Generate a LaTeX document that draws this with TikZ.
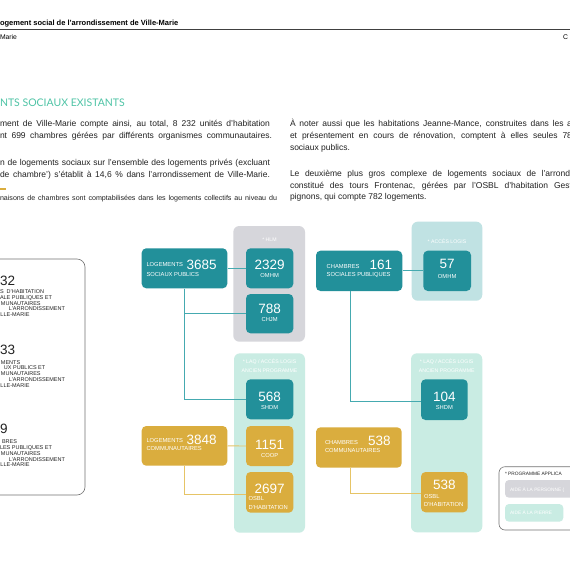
\documentclass[tikz,border=0pt]{standalone}
\usepackage{fontspec}
\setmainfont{Liberation Sans}
\newfontfamily\headfont{Lato}
\definecolor{tealc}{HTML}{22909A}
\definecolor{yelc}{HTML}{DAAD3E}
\definecolor{grayg}{HTML}{D6D6DB}
\definecolor{mintg}{HTML}{C9ECE3}
\definecolor{acclg}{HTML}{C0E2E3}
\definecolor{tlinec}{HTML}{45AAB0}
\definecolor{ylinec}{HTML}{E6C466}
\definecolor{headc}{HTML}{4FC4A6}
\definecolor{bodyc}{HTML}{222222}
\begin{document}
\begin{tikzpicture}[x=1pt,y=-1pt,
  txt/.style={inner sep=0pt, outer sep=0pt},
  body/.style={txt, anchor=base west, font=\fontsize{8.5}{10}\selectfont, text=bodyc},
  foot/.style={txt, anchor=base west, font=\fontsize{7.1}{8}\selectfont, text=bodyc},
  grp/.style={draw=none, rounded corners=6pt, inner sep=0pt},
  boxs/.style={draw=none, rounded corners=4.5pt, inner sep=0pt},
  tealbox/.style={boxs, fill=tealc},
  yelbox/.style={boxs, fill=yelc},
  big/.style={txt, font=\fontsize{13.5}{13}\selectfont, text=white},
  small/.style={txt, font=\fontsize{5.8}{6}\selectfont, text=white},
  glabel/.style={txt, anchor=base, font=\fontsize{5.2}{6}\selectfont, text=white},
  tline/.style={draw=tlinec, line width=0.9pt},
  yline/.style={draw=ylinec, line width=0.9pt},
  lbtxt/.style={txt, anchor=base west, font=\fontsize{5.5}{5.5}\selectfont, text=bodyc},
  lbnum/.style={txt, anchor=base west, font=\fontsize{13.5}{13}\selectfont, text=bodyc},
  legtxt/.style={txt, anchor=base west, font=\fontsize{4.8}{5}\selectfont},
]
\useasboundingbox (0,0) rectangle (570,570);
\clip (0,0) rectangle (570,570);
\fill[white] (0,0) rectangle (570,570);

% header
\node[txt, anchor=base west, font=\bfseries\fontsize{7.5}{8}\selectfont] (title) at (0,25) {ogement social de l'arrondissement de Ville-Marie};
\coordinate (rl) at (0,29.5);
\coordinate (rr) at (570,29.5);
\draw[line width=0.8pt, draw=black!75] (rl) -- (rr);
\node[txt, anchor=base west, font=\fontsize{6.8}{8}\selectfont] (hl) at (0,39.5) {Marie};
\node[txt, anchor=base west, font=\fontsize{6.8}{8}\selectfont] (hr) at (563,39.5) {C};

% section heading
\node[txt, anchor=base west, font=\headfont\fontsize{10.5}{12}\selectfont, text=headc] (head) at (0,106.5) {NTS SOCIAUX EXISTANTS};

% left column text
\node[body] (l1) at (0,126.2) {\makebox[270pt][s]{ment de Ville-Marie compte ainsi, au total, 8 232 unités d'habitation}};
\node[body] (l2) at (0,138.2) {\makebox[272pt][s]{nt 699 chambres gérées par différents organismes communautaires.}};
\node[body] (l3) at (0,165) {\makebox[270pt][s]{n de logements sociaux sur l'ensemble des logements privés (excluant}};
\node[body] (l4) at (0,177) {\makebox[270pt][s]{de chambre') s'établit à 14,6 \% dans l'arrondissement de Ville-Marie.}};
\coordinate (ya) at (0,189);
\coordinate (yb) at (6,189);
\draw[draw=yelc, line width=1.5pt] (ya) -- (yb);
\node[foot] (l5) at (0,200.3) {\makebox[277pt][s]{naisons de chambres sont comptabilisées dans les logements collectifs au niveau du}};

% right column text
\node[body] (r1) at (290,126.2) {\makebox[282pt][s]{À noter aussi que les habitations Jeanne-Mance, construites dans les a}};
\node[body] (r2) at (290,138.2) {\makebox[282pt][s]{et présentement en cours de rénovation, comptent à elles seules 78}};
\node[body] (r3) at (290,150.2) {sociaux publics.};
\node[body] (r4) at (290,176) {\makebox[282pt][s]{Le deuxième plus gros complexe de logements sociaux de l'arrondi}};
\node[body] (r5) at (290,188) {\makebox[282pt][s]{constitué des tours Frontenac, gérées par l'OSBL d'habitation Gest}};
\node[body] (r6) at (290,199.7) {pignons, qui compte 782 logements.};

% left summary box
\node[draw=black!55, line width=0.6pt, rounded corners=8pt, minimum width=105pt, minimum height=236pt, inner sep=0pt] (lbox) at (32.5,377) {};
\node[lbnum] (n1) at (0,285.5) {32};
\node[lbtxt] (a1) at (0,293.2) {S\ \ D'HABITATION};
\node[lbtxt] (a2) at (0,299.1) {ALE PUBLIQUES ET};
\node[lbtxt] (a3) at (1,305.0) {MUNAUTAIRES};
\node[lbtxt] (a4) at (9,310.9) {L'ARRONDISSEMENT};
\node[lbtxt] (a5) at (0.5,316.8) {LLE-MARIE};
\node[lbnum] (n2) at (0,354) {33};
\node[lbtxt] (b1) at (1,364.0) {MENTS};
\node[lbtxt] (b2) at (4,369.9) {UX PUBLICS ET};
\node[lbtxt] (b3) at (1,375.8) {MUNAUTAIRES};
\node[lbtxt] (b4) at (9,381.7) {L'ARRONDISSEMENT};
\node[lbtxt] (b5) at (0.5,387.6) {LLE-MARIE};
\node[lbnum] (n3) at (0,433.8) {9};
\node[lbtxt] (c1) at (2,443.3) {BRES};
\node[lbtxt] (c2) at (0,449.2) {LES PUBLIQUES ET};
\node[lbtxt] (c3) at (1,455.1) {MUNAUTAIRES};
\node[lbtxt] (c4) at (9,461.0) {L'ARRONDISSEMENT};
\node[lbtxt] (c5) at (0.5,466.9) {LLE-MARIE};

% group backgrounds
\node[grp, fill=grayg, minimum width=71.7pt, minimum height=115.7pt] (ghlm) at (269.15,283.85) {};
\node[grp, fill=mintg, minimum width=71pt, minimum height=179.4pt] (glaq1) at (269.5,443) {};
\node[grp, fill=acclg, minimum width=70.6pt, minimum height=79pt] (gacc) at (447,261.2) {};
\node[grp, fill=mintg, minimum width=71.3pt, minimum height=179pt] (glaq2) at (446.65,442.8) {};

\node[glabel] (lhlm) at (269.5,241.5) {* HLM};
\node[glabel] (llaq1a) at (269.5,363.6) {* LAQ / ACCÈS LOGIS};
\node[glabel] (llaq1b) at (269.5,372.6) {ANCIEN PROGRAMME};
\node[glabel] (lacc) at (447,243.8) {* ACCÈS LOGIS};
\node[glabel] (llaq2a) at (446.7,363.6) {* LAQ / ACCÈS LOGIS};
\node[glabel] (llaq2b) at (446.7,372.6) {ANCIEN PROGRAMME};

% boxes
\node[tealbox, minimum width=85.6pt, minimum height=40pt] (lp) at (184.5,268.3) {};
\node[tealbox, minimum width=47.3pt, minimum height=40pt] (omhm) at (269.65,268.3) {};
\node[tealbox, minimum width=47.3pt, minimum height=39.3pt] (chjm) at (269.65,313.65) {};
\node[tealbox, minimum width=47.3pt, minimum height=40pt] (shdm) at (269.65,399.3) {};
\node[yelbox, minimum width=85.6pt, minimum height=39.7pt] (lc) at (184.5,445.85) {};
\node[yelbox, minimum width=47.3pt, minimum height=40pt] (coop) at (269.65,446) {};
\node[yelbox, minimum width=47.3pt, minimum height=40.7pt] (osbl) at (269.65,492.35) {};

\node[tealbox, minimum width=86.3pt, minimum height=40.3pt] (cp) at (359.15,270.85) {};
\node[tealbox, minimum width=47.7pt, minimum height=40.3pt] (omhm2) at (447.15,270.85) {};
\node[tealbox, minimum width=46.7pt, minimum height=40.7pt] (shdm2) at (444.35,399.65) {};
\node[yelbox, minimum width=85.7pt, minimum height=40.4pt] (cc) at (358.85,447.5) {};
\node[yelbox, minimum width=46.7pt, minimum height=40.3pt] (osbl2) at (444.35,492.15) {};

% connectors
\draw[tline] (lp.east) -- (omhm.west);
\draw[tline] (lp.south) |- (chjm.west);
\draw[tline] (lp.south) |- (shdm.west);
\draw[yline] (lc.east) -- (coop.west);
\draw[yline] (lc.south) |- ([yshift=-2.5pt]osbl.west);
\draw[tline] (cp.east) -- (omhm2.west);
\draw[tline] ([xshift=-8.4pt]cp.south) |- ([yshift=-1.3pt]shdm2.west);
\draw[yline] ([xshift=-8.1pt]cc.south) |- ([yshift=-1.2pt]osbl2.west);

% box texts
\node[small, anchor=base west] (t1) at (146.5,266.5) {LOGEMENTS};
\node[big, anchor=base west] (t2) at (186.5,269.4) {3685};
\node[small, anchor=base west] (t3) at (146.5,276.3) {SOCIAUX PUBLICS};
\node[big, anchor=base] (t4) at (269.65,269.4) {2329};
\node[small, anchor=base] (t5) at (269.65,277.5) {OMHM};
\node[big, anchor=base] (t6) at (269.65,313.5) {788};
\node[small, anchor=base] (t7) at (269.65,321) {CHJM};
\node[big, anchor=base] (t8) at (269.65,401.7) {568};
\node[small, anchor=base] (t9) at (269.65,409.6) {SHDM};
\node[small, anchor=base west] (t10) at (146.5,442) {LOGEMENTS};
\node[big, anchor=base west] (t11) at (186.5,444.7) {3848};
\node[small, anchor=base west] (t12) at (146.5,450.5) {COMMUNAUTAIRES};
\node[big, anchor=base] (t13) at (269.65,449) {1151};
\node[small, anchor=base] (t14) at (269.65,457.2) {COOP};
\node[big, anchor=base] (t15) at (269.65,493.4) {2697};
\node[small, anchor=base west] (t16) at (248.5,500.6) {OSBL};
\node[small, anchor=base west] (t17) at (248.5,509) {D'HABITATION};

\node[small, anchor=base west] (u1) at (326.7,268.2) {CHAMBRES};
\node[big, anchor=base west] (u2) at (369.5,269.4) {161};
\node[small, anchor=base west] (u3) at (326.7,276.6) {SOCIALES PUBLIQUES};
\node[big, anchor=base] (u4) at (447.15,268.5) {57};
\node[small, anchor=base] (u5) at (447.15,278.2) {OMHM};
\node[big, anchor=base] (u6) at (444.35,401.7) {104};
\node[small, anchor=base] (u7) at (444.35,409) {SHDM};
\node[small, anchor=base west] (u8) at (325,444) {CHAMBRES};
\node[big, anchor=base west] (u9) at (368,445) {538};
\node[small, anchor=base west] (u10) at (325,452.2) {COMMUNAUTAIRES};
\node[big, anchor=base] (u11) at (444.35,489) {538};
\node[small, anchor=base west] (u12) at (424,498) {OSBL};
\node[small, anchor=base west] (u13) at (424,506.6) {D'HABITATION};

% legend
\node[draw=black!55, line width=0.6pt, rounded corners=6pt, minimum width=85pt, minimum height=63.3pt, inner sep=0pt] (leg) at (541.5,498.35) {};
\node[legtxt, text=bodyc] (lg0) at (505,475.4) {* PROGRAMME APPLICA};
\node[grp, rounded corners=4pt, fill=grayg, minimum width=80pt, minimum height=17.7pt] (lg1) at (545,488.85) {};
\node[legtxt, text=white] (lg1t) at (510,491.1) {AIDE À LA PERSONNE (};
\node[grp, rounded corners=4pt, fill=mintg, minimum width=58.3pt, minimum height=17.7pt] (lg2) at (534.15,512.85) {};
\node[legtxt, text=white] (lg2t) at (510,514.6) {AIDE À LA PIERRE};
\end{tikzpicture}
\end{document}
